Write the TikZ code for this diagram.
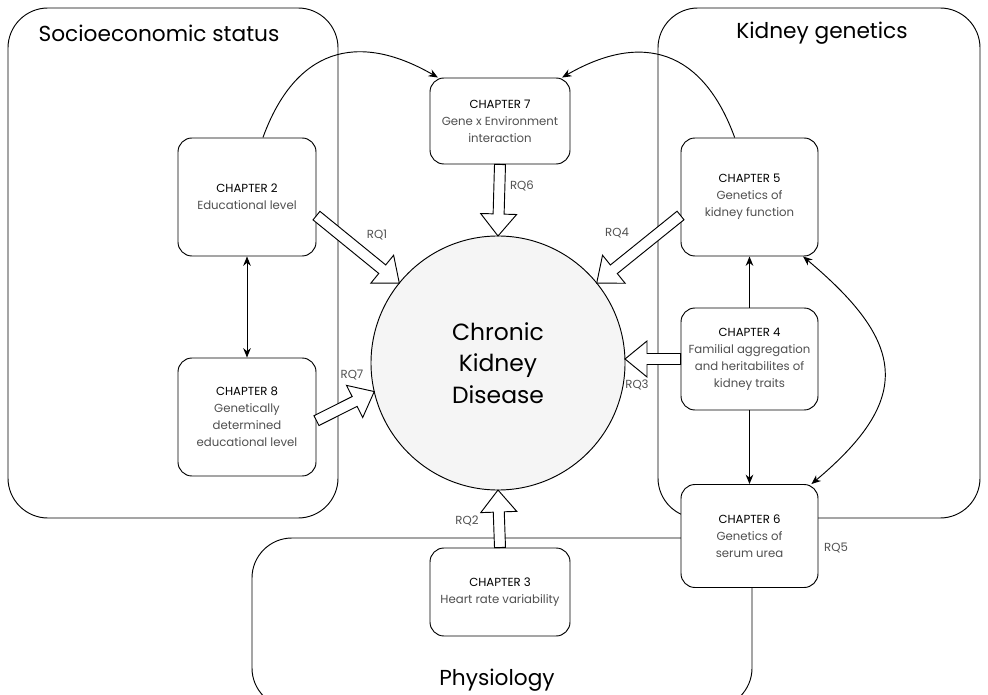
\documentclass[tikz,border=0pt]{standalone}
\usepackage{fontspec}
\setmainfont{Poppins}
\usepackage{xcolor}
\usetikzlibrary{calc,arrows.meta}

\definecolor{bodygray}{HTML}{505050}
\definecolor{ckdfill}{HTML}{F5F5F5}

% hollow block arrow from one node anchor to another
\newcommand{\rqarrow}[2]{%
  \path (#1) coordinate (rqtail) (#2) coordinate (rqtip)
    ($(rqtip)!0.66cm!(rqtail)$) coordinate (rqhead);
  \draw[blockarrow] ($(rqtail)!0.165cm!90:(rqtip)$) -- ($(rqhead)!0.165cm!90:(rqtip)$)
    -- ($(rqhead)!0.54cm!90:(rqtip)$) -- (rqtip) -- ($(rqhead)!0.54cm!-90:(rqtip)$)
    -- ($(rqhead)!0.165cm!-90:(rqtip)$) -- ($(rqtail)!0.165cm!-90:(rqtip)$) -- cycle;}
\newcommand{\chap}[2]{{\color{black}CHAPTER #1}\\#2}

\begin{document}
\begin{tikzpicture}[x=0.03cm,y=0.03cm, line width=0.8pt,
  group/.style={draw, rounded corners=1.2cm, inner sep=0pt},
  grouptitle/.style={font=\fontsize{18.5}{22}\selectfont},
  chapter/.style={draw, fill=white, rounded corners=0.42cm, align=center, text=bodygray,
    font=\fontsize{10}{14.5}\selectfont, minimum width=4.14cm, minimum height=3.54cm, inner sep=2pt},
  rq/.style={text=bodygray, font=\fontsize{10}{12}\selectfont},
  blockarrow/.style={draw, fill=white, line join=miter},
  link/.style={-{Stealth[length=8pt,width=6.5pt]}},
  dlink/.style={{Stealth[length=8pt,width=6.5pt]}-{Stealth[length=8pt,width=6.5pt]}}]
\useasboundingbox (0,0) rectangle (988,694);
\clip (0,0) rectangle (988,694);

% groups
\node[group, minimum width=9.9cm, minimum height=15.3cm] (ses) at (173,431) {};
\node[group, minimum width=9.66cm, minimum height=15.3cm] (kgen) at (819,431) {};
\node[group, minimum width=15cm, minimum height=5.1cm] (phys) at (502,71) {};
\node[grouptitle] (sestitle) at (159,661) {Socioeconomic status};
\node[grouptitle] (kgentitle) at (822,661) {Kidney genetics};
\node[grouptitle] (phystitle) at (497,14) {Physiology};

% disease
\node[circle, draw, fill=ckdfill, minimum size=7.62cm, inner sep=0pt, outer sep=0pt,
  align=center, font=\fontsize{20}{27}\selectfont] (ckd) at (498,331) {Chronic\\Kidney\\Disease};

% chapters
\node[chapter] (ch2) at (247,497) {\chap{2}{Educational level}};
\node[chapter] (ch8) at (247,277) {\chap{8}{Genetically\\determined\\educational level}};
\node[chapter, minimum width=4.2cm, minimum height=2.58cm] (ch7) at (500,573) {\chap{7}{Gene x Environment\\interaction}};
\node[chapter, minimum width=4.11cm] (ch5) at (749.5,497) {\chap{5}{Genetics of\\kidney function}};
\node[chapter, minimum width=4.11cm, minimum height=3.06cm] (ch4) at (749.5,335) {\chap{4}{Familial aggregation\\and heritabilites of\\kidney traits}};
\node[chapter, minimum width=4.11cm, minimum height=3.09cm] (ch6) at (749.5,158) {\chap{6}{Genetics of\\serum urea}};
\node[chapter, minimum width=4.2cm, minimum height=2.64cm] (ch3) at (500,102) {\chap{3}{Heart rate variability}};

% links between chapters
\draw[dlink] (ch2.south) -- (ch8.north);
\draw[link] (ch4.north) -- (ch5.south);
\draw[link] (ch4.south) -- (ch6.north);
\draw[dlink] (ch5.-48) to[out=-40,in=40,looseness=1.5] (ch6.40);
\draw[link] (ch2.75) to[out=70,in=150,looseness=1.3] (ch7.145);
\draw[link] (ch5.104) to[out=110,in=30,looseness=1.3] (ch7.35);

% research questions
\rqarrow{ch2.-15}{ckd.141}
\rqarrow{ch5.195}{ckd.39}
\rqarrow{ch7.south}{ckd.north}
\rqarrow{ch3.north}{ckd.south}
\coordinate (rq3tip) at (ch4.west -| ckd.east);
\rqarrow{ch4.west}{rq3tip}
\rqarrow{ch8.-3}{ckd.193}

\node[rq] (rq1) at (377,459) {RQ1};
\node[rq] (rq4) at (617,461) {RQ4};
\node[rq] (rq6) at (522,508) {RQ6};
\node[rq] (rq2) at (467,173) {RQ2};
\node[rq] (rq3) at (637,309) {RQ3};
\node[rq] (rq7) at (352,319) {RQ7};
\node[rq] (rq5) at (836,146) {RQ5};
\end{tikzpicture}
\end{document}
